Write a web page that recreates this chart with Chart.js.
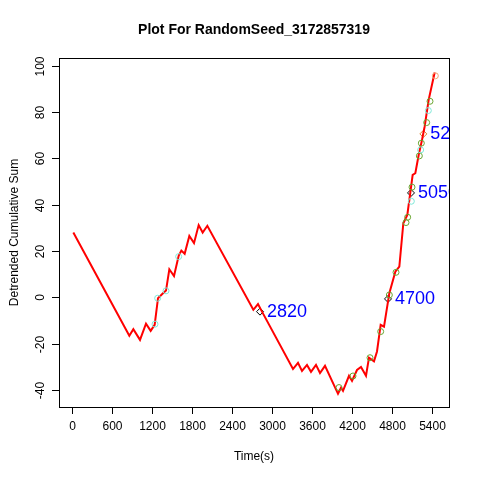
<!DOCTYPE html>
<html><head><script src="https://cdn.jsdelivr.net/npm/chart.js@4"></script>
<style>body{margin:0;background:#fff}#w{width:480px;height:480px}</style></head>
<body><div id="w"><canvas id="c"></canvas></div>
<script>
const lineX=[20,860,920,1020,1110,1180,1240,1290,1350,1410,1460,1530,1600,1640,1690,1760,1830,1900,1960,2030,2720,2790,2850,3315,3390,3450,3525,3585,3660,3720,3795,3990,4035,4065,4155,4200,4275,4335,4410,4455,4530,4575,4630,4680,4760,4850,4910,4970,5030,5110,5150,5200,5250,5290,5350,5440];
const lineY=[28,-16.6,-13.8,-18.4,-11.4,-14.5,-11.9,-0.4,1.3,2.9,12.1,9.2,17.9,20.2,18.8,26.5,23.4,31.2,28,30.9,-5.4,-2.9,-6.2,-31,-28.3,-31.8,-29.2,-32.2,-29.2,-32.7,-29.6,-41.7,-39.1,-40.4,-33.9,-36.1,-31.4,-30.1,-33.9,-26.1,-27.7,-23.4,-11.9,-12.7,1.8,11.1,13.3,32,35.6,52.9,53.6,61.5,68,73.8,85.3,97.1];
const greenX=[4005,4215,4470,4630,4760,4860,5010,5035,5100,5210,5240,5320,5370];
const greenY=[-39,-34,-26.1,-14.8,1,10.8,32.3,34.6,47.6,61.1,66.6,75.5,84.7];
const cyanX=[1245,1285,1410,1600,5090,5230,5345];
const cyanY=[-11.6,-0.4,2.8,17.6,41.5,63.7,80.7];
const orangeX=[5450], orangeY=[95.7];
const markX=[2820,4740,5085,5270];
const markY=[-6.2,-0.7,45.1,70.6];
const markLabels=["2820","4700","5050","5200"];
const markColors=["#000","#000","#000","#E0802A"];
const xTicks=[0,600,1200,1800,2400,3000,3600,4200,4800,5400];
const yTicks=[-40,-20,0,20,40,60,80,100];
const pts=(xs,ys)=>xs.map((x,i)=>({x,y:ys[i]}));
const deco={id:'deco',afterDraw(ch){
 const c=ch.ctx,a=ch.chartArea,xs=ch.scales.x,ys=ch.scales.y;
 c.save();c.strokeStyle='#000';c.lineWidth=1;c.strokeRect(a.left+.5,a.top+.5,a.right-a.left,a.bottom-a.top);
 c.fillStyle='#000';c.font='12px "Liberation Sans",Arial';c.textAlign='center';c.textBaseline='top';
 xTicks.forEach(t=>{const p=Math.round(xs.getPixelForValue(t))+.5;c.beginPath();c.moveTo(p,a.bottom);c.lineTo(p,a.bottom+7);c.stroke();c.fillText(String(t),p,a.bottom+14);});
 yTicks.forEach(t=>{const p=Math.round(ys.getPixelForValue(t))+.5;c.beginPath();c.moveTo(a.left,p);c.lineTo(a.left-7,p);c.stroke();
  c.save();c.translate(a.left-12,p);c.rotate(-Math.PI/2);c.textBaseline='bottom';c.fillText(String(t),0,0);c.restore();});
 c.font='bold 14px "Liberation Sans",Arial';c.textBaseline='middle';c.fillText('Plot For RandomSeed_3172857319',(a.left+a.right)/2,30);
 c.font='12px "Liberation Sans",Arial';c.fillText('Time(s)',(a.left+a.right)/2,457);
 c.save();c.translate(15,(a.top+a.bottom)/2);c.rotate(-Math.PI/2);c.fillText('Detrended Cumulative Sum',0,0);c.restore();
 c.beginPath();c.rect(a.left,a.top,a.right-a.left,a.bottom-a.top);c.clip();
 c.font='18px "Liberation Sans",Arial';c.fillStyle='#0000FF';c.textAlign='left';
 markX.forEach((x,i)=>c.fillText(markLabels[i],xs.getPixelForValue(x)+7,ys.getPixelForValue(markY[i])));
 c.restore();}};
const circ=(d,col)=>({type:'scatter',data:d,showLine:false,pointStyle:'circle',pointRadius:3,borderColor:col,backgroundColor:'transparent',borderWidth:1});
new Chart(document.getElementById('c'),{type:'scatter',
 data:{datasets:[
  circ(pts(cyanX,cyanY),'#7FE8D8'),circ(pts(greenX,greenY),'#6BA632'),circ(pts(orangeX,orangeY),'#F4A070'),
  {data:pts(lineX,lineY),showLine:true,pointRadius:0,borderColor:'#FF0000',borderWidth:2,tension:0},
  {data:pts(markX,markY),showLine:false,pointStyle:'rectRot',pointRadius:3.5,borderColor:markColors,backgroundColor:'transparent',borderWidth:1}
 ]},
 options:{responsive:true,maintainAspectRatio:false,animation:false,devicePixelRatio:1,
  layout:{padding:{left:59,right:31,top:58,bottom:73}},
  plugins:{legend:{display:false},tooltip:{enabled:false}},
  scales:{x:{type:'linear',min:-195,max:5655,display:false},y:{min:-47.4,max:103.4,display:false}}},
 plugins:[deco]});
</script></body></html>
